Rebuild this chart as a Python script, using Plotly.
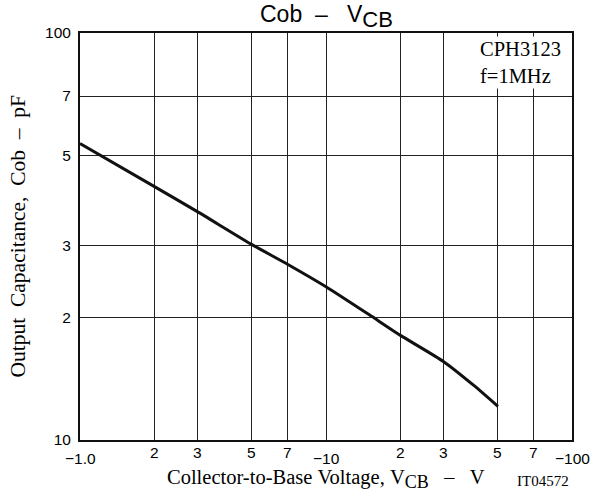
import plotly.graph_objects as go
import math

# Cob vs VCB curve (CPH3123, f = 1 MHz); |VCB| in volts, Cob as labelled on the axis
vcb = [1, 2, 3, 5, 7, 10, 15, 20, 30, 40, 50]
cob = [53.5, 42.0, 36.4, 30.2, 27.0, 23.8, 20.3, 18.1, 15.6, 13.6, 12.1]

x_grid = [1, 2, 3, 5, 7, 10, 20, 30, 50, 70, 100]
x_labels = ["\u22121.0", "2", "3", "5", "7", "\u221210", "2", "3", "5", "7", "\u2212100"]
y_grid = [10, 20, 30, 50, 70, 100]
y_labels = ["10", "2", "3", "5", "7", "100"]

SANS = "Liberation Sans, Arial, sans-serif"
SERIF = "Liberation Serif, Times New Roman, serif"
NB = "\u00a0"


def sub(text, px):
    # lowered subscript kept close to full size
    return "<sub><span style='font-size:%dpx'>%s</span></sub>" % (px, text)


fig = go.Figure()
fig.add_trace(go.Scatter(x=vcb, y=cob, mode="lines",
                         line=dict(color="#111111", width=3, shape="spline",
                                   smoothing=0.5),
                         hoverinfo="skip"))

annotations = []
# x tick labels: decade labels sit a little lower than the 2/3/5/7 labels
for v, t in zip(x_grid, x_labels):
    decade = t.startswith("\u2212")
    annotations.append(dict(x=math.log10(v), y=0, xref="x", yref="paper",
                            text=t, showarrow=False, yanchor="top",
                            yshift=-8 if decade else -2,
                            font=dict(family=SANS, size=15.5, color="#000")))

dash = NB * 2 + "\u2013" + NB * 2
annotations += [
    dict(x=0.5, y=1, xref="paper", yref="paper", yanchor="bottom", yshift=0,
         borderpad=0,
         text="Cob" + NB * 2 + "\u2013" + NB * 3 + "V" + sub("CB", 22),
         showarrow=False, font=dict(family=SANS, size=23, color="#000")),
    dict(x=0.5, y=0, xref="paper", yref="paper", yanchor="top", yshift=-25,
         borderpad=0,
         text="Collector-to-Base" + NB + "Voltage," + NB + "V" + sub("CB", 18)
              + NB * 3 + "\u2013" + NB * 3 + "V",
         showarrow=False, font=dict(family=SERIF, size=20.5, color="#000")),
    dict(x=1, y=0, xref="paper", yref="paper", xanchor="right", yanchor="top",
         xshift=-1, yshift=-31, text="IT04572", showarrow=False,
         font=dict(family=SERIF, size=15, color="#000")),
    dict(x=0, y=0.5, xref="paper", yref="paper", xanchor="center", xshift=-63,
         text="Output" + NB * 2 + "Capacitance," + NB * 2 + "Cob" + dash + "pF",
         textangle=-90, showarrow=False,
         font=dict(family=SERIF, size=21.5, color="#000")),
    dict(x=1, y=1, xref="paper", yref="paper", xanchor="right", yanchor="top",
         xshift=-9, yshift=-3, align="left",
         text="CPH3123<br>f=1MHz", showarrow=False, bgcolor="white",
         font=dict(family=SERIF, size=20.5, color="#000")),
]

fig.update_layout(
    width=590, height=492,
    margin=dict(l=80, r=18, t=33, b=52),
    paper_bgcolor="white", plot_bgcolor="white",
    showlegend=False,
    annotations=annotations,
    xaxis=dict(type="log", range=[0, 2], tickvals=x_grid, showticklabels=False,
               ticks="", showgrid=True, gridcolor="#222", gridwidth=1,
               showline=True, linecolor="#111", linewidth=2, mirror=True,
               zeroline=False),
    yaxis=dict(type="log", range=[1, 2], tickvals=y_grid, ticktext=y_labels,
               ticks="", ticklabelstandoff=4, showgrid=True, gridcolor="#222",
               gridwidth=1, showline=True, linecolor="#111", linewidth=2,
               mirror=True, zeroline=False,
               tickfont=dict(family=SANS, size=15.5, color="#000")),
)

fig.write_html("out.html")
